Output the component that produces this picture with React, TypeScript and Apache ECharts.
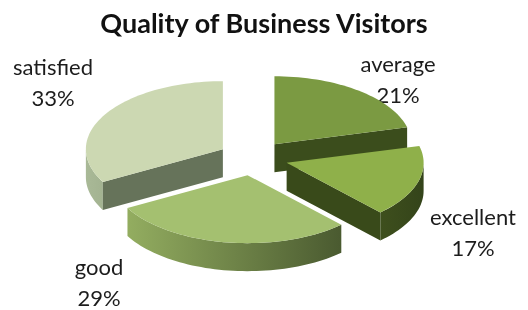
import React, { useEffect, useRef } from "react";
import * as echarts from "echarts";

const TITLE = "Quality of Business Visitors";
const categories = ["average", "excellent", "good", "satisfied"];
const values = [21, 17, 29, 33];

// styling / layout (not data)
const topColors = ["#7b9a42", "#8fb04a", "#a4c070", "#ccd8b2"];
const cutColors = ["#3b4d1c", "#394a1a", "#4c5c32", "#66735a"];
const wallStops = [
  ["#3b4d1c", "#3b4d1c"],
  ["#3e4f1d", "#34441a"],
  ["#93ad60", "#4a5a30"],
  ["#a9b997", "#a3b391"],
];
const labelPos = [
  [398, 79],
  [473, 232],
  [99, 282],
  [53, 82],
];

export default function App() {
  const ref = useRef<HTMLDivElement>(null);
  useEffect(() => {
    if (!ref.current) return;
    const chart = echarts.init(ref.current, null, { renderer: "svg" });
    const total = values.reduce((a, b) => a + b, 0);
    const starts: number[] = [];
    let acc = 0;
    values.forEach((v) => {
      starts.push((acc / total) * Math.PI * 2);
      acc += v;
    });
    const CX = 253, CY = 158, RX = 137, RY = 68, T = 28, EXP = 35;

    const renderItem = (params: any, api: any) => {
      const i = params.dataIndex;
      const v = api.value(0);
      const a1 = starts[i];
      const a2 = a1 + (v / total) * Math.PI * 2;
      const mid = (a1 + a2) / 2;
      const tx = CX + Math.sin(mid) * EXP;
      const ty = CY - Math.cos(mid) * EXP * (RY / RX);
      const rim = (a: number, dy = 0) => [tx + Math.sin(a) * RX, ty - Math.cos(a) * RY + dy];
      const arc = (b1: number, b2: number, dy = 0) => {
        const pts: number[][] = [];
        const n = Math.max(2, Math.ceil(((b2 - b1) / Math.PI) * 90));
        for (let k = 0; k <= n; k++) pts.push(rim(b1 + ((b2 - b1) * k) / n, dy));
        return pts;
      };
      const base = Math.round((1 - Math.cos(mid)) * 100) * 10;
      const children: any[] = [];
      // outer wall (front half: PI/2..3PI/2)
      const w1 = Math.max(a1, Math.PI / 2);
      const w2 = Math.min(a2, (Math.PI * 3) / 2);
      if (w2 > w1) {
        const pts = arc(w1, w2).concat(arc(w1, w2, T).reverse());
        children.push({
          type: "polygon",
          z2: base + 1,
          shape: { points: pts },
          style: {
            fill: {
              type: "linear", x: 0, y: 0, x2: 1, y2: 0,
              colorStops: [
                { offset: 0, color: wallStops[i][0] },
                { offset: 1, color: wallStops[i][1] },
              ],
            },
          },
        });
      }
      // cut faces
      const cut = (a: number) => {
        const r = rim(a);
        return [[tx, ty], r, [r[0], r[1] + T], [tx, ty + T]];
      };
      if (Math.sin(a1) < -1e-6)
        children.push({ type: "polygon", z2: base + 1, shape: { points: cut(a1) }, style: { fill: cutColors[i] } });
      if (Math.sin(a2) > 1e-6)
        children.push({ type: "polygon", z2: base + 1, shape: { points: cut(a2) }, style: { fill: cutColors[i] } });
      // top face
      children.push({
        type: "polygon",
        z2: base + 2,
        shape: { points: [[tx, ty]].concat(arc(a1, a2)) },
        style: { fill: topColors[i] },
      });
      return { type: "group", children };
    };

    chart.setOption({
      animation: false,
      title: {
        text: TITLE,
        left: "center",
        top: 4,
        textStyle: { fontFamily: "Lato", fontWeight: "bold", fontSize: 27, color: "#111" },
      },
      series: [
        {
          type: "custom",
          coordinateSystem: "none",
          renderItem,
          data: values.map((v, i) => ({ name: categories[i], value: [v] })),
        },
      ],
      graphic: categories.map((c, i) => ({
        type: "text",
        x: labelPos[i][0],
        y: labelPos[i][1],
        style: {
          text: `${c}\n${values[i]}%`,
          fontFamily: "Lato",
          fontSize: 22,
          lineHeight: 31,
          fill: "#1c1c1c",
          align: "center",
          verticalAlign: "middle",
        },
      })),
    });
    return () => chart.dispose();
  }, []);
  return <div ref={ref} style={{ position: "fixed", left: 0, top: 0, width: 528, height: 310 }} />;
}
